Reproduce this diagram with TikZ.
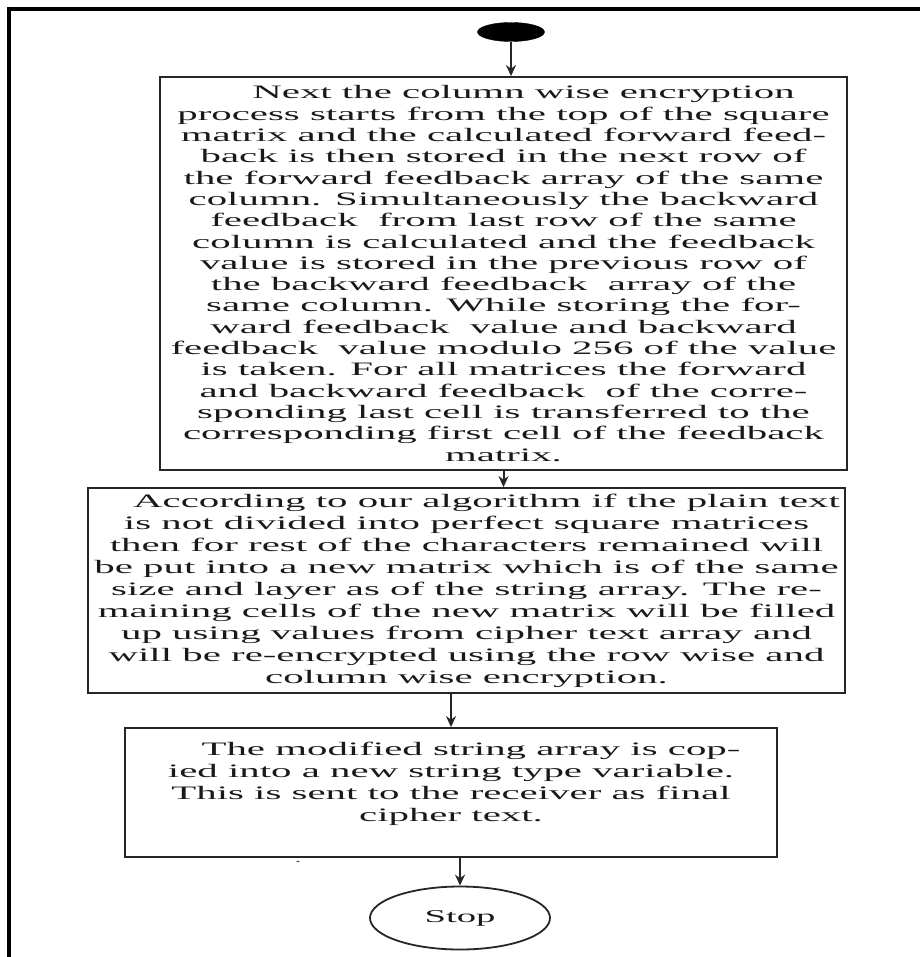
\documentclass[tikz,border=0pt]{standalone}
\usepackage{fontspec}
\setmainfont[FakeStretch=2.15]{Liberation Serif}
\usetikzlibrary{arrows.meta,shapes.geometric}
\tikzset{
  procbox/.style={draw=black!85, line width=1.8pt, rectangle, inner sep=0pt,
    align=center, text=black!90, font=\fontsize{19}{22}\selectfont},
  startnode/.style={ellipse, fill=black, draw=black, inner sep=0pt,
    minimum width=67pt, minimum height=19pt},
  stopnode/.style={ellipse, draw=black!85, line width=1.8pt, inner sep=0pt,
    minimum width=180pt, minimum height=63pt, text=black!90,
    font=\fontsize{18}{21}\selectfont},
  flow/.style={draw=black!85, line width=2pt, -{Stealth[length=11pt,width=10pt]}},
  frameline/.style={line width=4pt, draw=black},
  speck/.style={inner sep=0pt, text=black!70, font=\fontsize{12}{12}\selectfont},
}
\newcommand{\ind}{\hspace*{40pt}}
\begin{document}
\begin{tikzpicture}[x=1pt,y=-1pt]
\useasboundingbox (0,0) rectangle (920,957);
\draw[frameline] (9,957) -- (9,9) -- (920,9);

\node[startnode] (start) at (511,32) {};

\node[procbox, minimum width=687pt, minimum height=393pt,
      font=\fontsize{19}{21.3}\selectfont] (b1) at (503.5,273.5) {%
\ind Next the column wise encryption\\
process starts from the top of the square\\
matrix and the calculated forward feed-\\
back is then stored in the next row of\\
the forward feedback array of the same\\
column. Simultaneously the backward\\
feedback~ from last row of the same\\
column is calculated and the feedback\\
value is stored in the previous row of\\
the backward feedback~ array of the\\
same column. While storing the for-\\
ward feedback~ value and backward\\
feedback~ value modulo 256 of the value\\
is taken. For all matrices the forward\\
and backward feedback~ of the corre-\\
sponding last cell is transferred to the\\
corresponding first cell of the feedback\\
matrix.};

\node[procbox, minimum width=757pt, minimum height=205pt] (b2) at (466.5,590.5) {%
\ind According to our algorithm if the plain text\\
is not divided into perfect square matrices\\
then for rest of the characters remained will\\
be put into a new matrix which is of the same\\
size and layer as of the string array. The re-\\
maining cells of the new matrix will be filled\\
up using values from cipher text array and\\
will be re-encrypted using the row wise and\\
column wise encryption.};

\node[procbox, minimum width=652pt, minimum height=129pt] (b3) at (451,792.5) {%
\ind The modified string array is cop-\\
ied into a new string type variable.\\
This is sent to the receiver as final\\
cipher text.\\
\mbox{}};

\node[speck] (dot) at (298,862) {.};

\node[stopnode] (stop) at (460,918) {Stop};

\draw[flow] (start.south) -- (start.south |- b1.north);
\draw[flow] (b1.south) -- (b1.south |- b2.north);
\draw[flow] (b3.north |- b2.south) -- (b3.north);
\draw[flow] (stop.north |- b3.south) -- (stop.north);
\end{tikzpicture}
\end{document}
